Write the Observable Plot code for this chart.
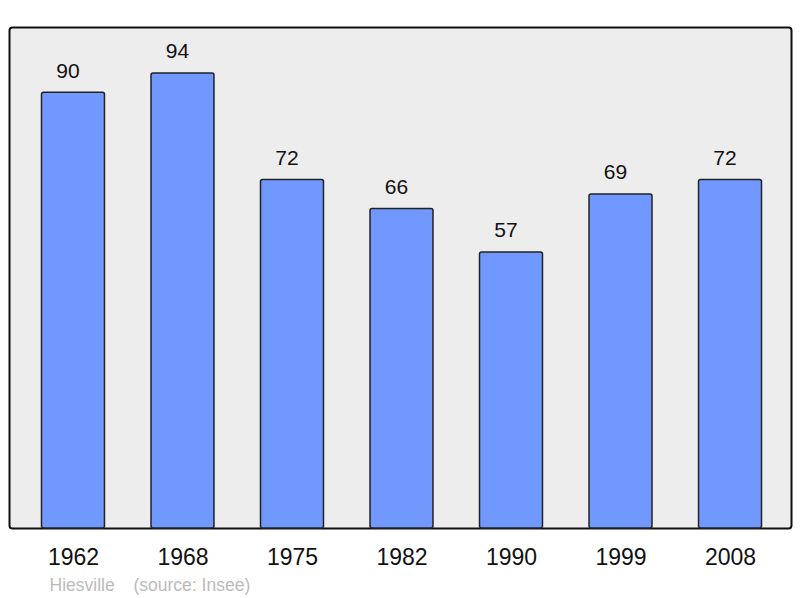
<!DOCTYPE html>
<html>
<head>
<meta charset="utf-8">
<script src="https://cdn.jsdelivr.net/npm/d3@7"></script>
<script src="https://cdn.jsdelivr.net/npm/@observablehq/plot@0.6"></script>
<style>
  body { margin: 0; background: #fff; }
  svg { display: block; }
</style>
</head>
<body>
<div id="chart"></div>
<script>
const years = ["1962", "1968", "1975", "1982", "1990", "1999", "2008"];
const population = [90, 94, 72, 66, 57, 69, 72];
const placeName = "Hiesville";
const sourceText = "(source: Insee)";

const data = years.map((year, i) => ({year, value: population[i]}));

const chart = Plot.plot({
  width: 800,
  height: 598,
  marginTop: 27,
  marginRight: 9,
  marginBottom: 70,
  marginLeft: 9,
  style: {fontFamily: "'Liberation Sans', Arial, sans-serif", background: "#fff"},
  x: {domain: years, range: [41.5, 761.5], paddingInner: 0.425, paddingOuter: 0, round: false, label: null},
  y: {domain: [0, 103.5], axis: null},
  marks: [
    Plot.frame({fill: "#ededed", stroke: "#111", strokeWidth: 2, rx: 3}),
    Plot.barY(data, {x: "year", y: "value", fill: "#7098ff", stroke: "#222", strokeWidth: 1.5, rx: 2}),
    Plot.text(data, {x: "year", y: "value", text: d => String(d.value), dx: -5.5, dy: -22, fontSize: 21, fill: "#111"}),
    Plot.axisX({tickSize: 0, tickPadding: 20, fontSize: 23, color: "#111", label: null}),
    Plot.text([placeName], {frameAnchor: "bottom-left", dx: 40, dy: 62, textAnchor: "start", fontSize: 17.5, fill: "#bbbbbb"}),
    Plot.text([sourceText], {frameAnchor: "bottom-left", dx: 124, dy: 62, textAnchor: "start", fontSize: 17.5, fill: "#bbbbbb"})
  ]
});
document.getElementById("chart").appendChild(chart);
</script>
</body>
</html>
